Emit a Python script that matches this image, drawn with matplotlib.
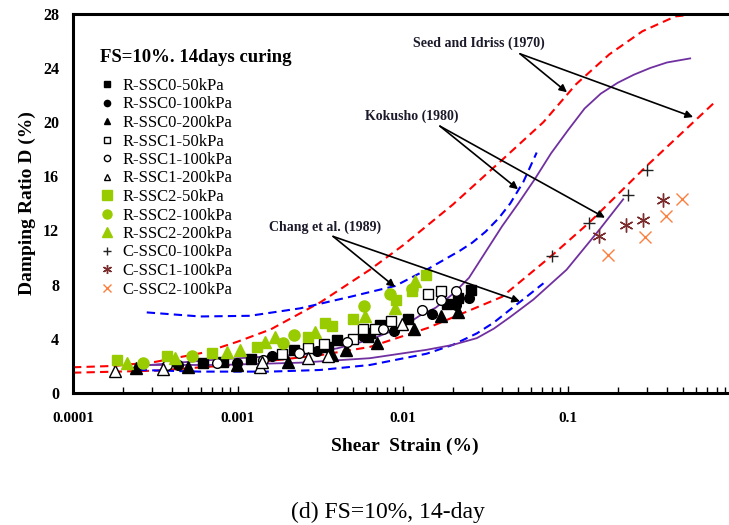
import matplotlib
matplotlib.use('Agg')
import matplotlib.pyplot as plt

plt.rcParams['font.family'] = ['Liberation Serif', 'DejaVu Serif']

# --- test results: shear strain (%), damping ratio (%) ---
r0_50_x = [6.1e-4, 8.1e-4, 1.2e-3, 2.2e-3, 3.5e-3, 4.0e-3, 6.1e-3, 6.3e-3, 7.3e-3, 1.07e-2, 1.85e-2, 2.15e-2, 2.6e-2]
r0_50_y = [2.2, 2.3, 2.5, 3.2, 3.4, 3.9, 4.1, 4.4, 5.0, 5.5, 6.6, 7.0, 7.6]
r0_100_x = [4.3e-4, 9.9e-4, 1.6e-3, 3.0e-3, 5.7e-3, 8.8e-3, 1.5e-2, 2.1e-2, 2.5e-2]
r0_100_y = [2.1, 2.2, 2.7, 3.1, 4.2, 4.6, 5.8, 6.5, 7.0]
r0_200_x = [2.4e-4, 5.0e-4, 9.9e-4, 2.0e-3, 3.7e-3, 4.5e-3, 7.0e-3, 1.17e-2, 1.7e-2, 2.15e-2]
r0_200_y = [1.85, 1.95, 2.1, 2.3, 2.8, 3.2, 3.7, 4.7, 5.7, 6.0]
r1_50_x = [1.85e-3, 2.65e-3, 3.3e-3, 5.0e-3, 5.7e-3, 6.8e-3, 8.5e-3, 1.42e-2, 1.7e-2]
r1_50_y = [2.9, 3.3, 3.6, 4.0, 4.7, 4.7, 5.3, 7.3, 7.5]
r1_100_x = [3.7e-4, 7.5e-4, 1.42e-3, 2.34e-3, 4.6e-3, 7.6e-3, 1.3e-2, 1.7e-2, 2.1e-2]
r1_100_y = [2.05, 2.2, 2.45, 2.95, 3.8, 4.7, 6.15, 6.9, 7.5]
r1_200_x = [1.8e-4, 3.5e-4, 1.36e-3, 1.4e-3, 2.65e-3, 3.5e-3, 9.9e-3]
r1_200_y = [1.6, 1.75, 1.95, 2.3, 2.6, 2.7, 5.1]
r2_50_x = [1.85e-4, 3.7e-4, 7.0e-4, 1.3e-3, 2.65e-3, 3.37e-3, 3.7e-3, 5.0e-3, 9.1e-3, 1.14e-2, 1.38e-2]
r2_50_y = [2.45, 2.7, 2.95, 3.4, 4.15, 5.15, 4.95, 5.5, 6.9, 7.5, 8.7]
r2_100_x = [2.65e-4, 5.3e-4, 1.87e-3, 2.2e-3, 5.8e-3, 8.3e-3, 1.14e-2]
r2_100_y = [2.2, 2.7, 3.7, 4.3, 6.45, 7.3, 7.7]
r2_200_x = [2.12e-4, 4.15e-4, 8.6e-4, 1.03e-3, 1.46e-3, 1.67e-3, 2.93e-3, 5.9e-3, 8.9e-3, 1.18e-2]
r2_200_y = [2.2, 2.55, 3.0, 3.2, 3.75, 4.17, 4.54, 5.65, 6.27, 8.3]
c0_x = [0.0796, 0.1346, 0.230, 0.300]
c0_y = [10.15, 12.57, 14.59, 16.47]
c1_x = [0.155, 0.224, 0.284, 0.378]
c1_y = [11.58, 12.37, 12.77, 14.22]
c2_x = [0.175, 0.293, 0.393, 0.489]
c2_y = [10.22, 11.5, 13.1, 14.35]

# --- reference curves ---
seed_up_x = [1.0e-4, 1.78e-4, 3.16e-4, 6.3e-4, 1.0e-3, 1.58e-3, 3.16e-3, 6.3e-3, 1.0e-2, 2.0e-2,
             3.98e-2, 7.1e-2, 0.112, 0.178, 0.282, 0.447, 0.63, 0.78]
seed_up_y = [1.9, 2.0, 2.3, 3.0, 3.8, 4.7, 6.7, 9.1, 10.9, 13.9, 17.2, 20.0, 22.8, 25.0, 26.7, 27.8, 28.0, 28.0]
seed_lo_x = [1.0e-4, 3.16e-4, 1.0e-3, 3.16e-3, 6.3e-3, 1.41e-2, 3.98e-2, 7.9e-2, 0.135, 0.302, 0.78]
seed_lo_y = [1.5, 1.65, 2.1, 2.8, 3.4, 4.8, 7.1, 10.1, 12.6, 16.8, 21.5]
chang_up_x = [2.8e-4, 5.9e-4, 1.18e-3, 2.38e-3, 4.78e-3, 8.95e-3, 1.39e-2, 2.21e-2, 2.63e-2, 3.16e-2,
              3.8e-2, 4.47e-2, 5.37e-2, 6.46e-2]
chang_up_y = [5.95, 5.65, 5.7, 6.25, 7.1, 7.9, 9.1, 10.5, 11.1, 11.9, 12.9, 14.0, 15.6, 17.75]
chang_lo_x = [2.5e-4, 5.9e-4, 1.56e-3, 3.14e-3, 6.3e-3, 1.39e-2, 2.0e-2, 2.8e-2, 3.55e-2, 4.45e-2, 5.6e-2, 7.1e-2]
chang_lo_y = [1.7, 1.58, 1.58, 1.7, 2.07, 2.9, 3.55, 4.4, 5.2, 6.15, 7.1, 8.1]
koku_up_x = [2.93e-4, 7.8e-4, 2.5e-3, 4.0e-3, 6.3e-3, 1.0e-2, 1.26e-2, 1.58e-2, 2.0e-2, 2.51e-2, 3.16e-2,
             3.98e-2, 5.0e-2, 6.3e-2, 7.9e-2, 0.1, 0.126, 0.158, 0.2, 0.251, 0.316, 0.398, 0.55]
koku_up_y = [2.07, 2.49, 2.85, 3.3, 3.93, 4.9, 5.7, 6.3, 7.3, 8.5, 10.4, 12.3, 14.0, 15.8, 17.7, 19.4,
             21.0, 22.1, 22.9, 23.5, 24.0, 24.4, 24.7]
koku_lo_x = [2.93e-4, 7.8e-4, 2.38e-3, 6.3e-3, 1.39e-2, 2.0e-2, 2.8e-2, 3.55e-2, 4.45e-2, 6.17e-2, 9.8e-2, 0.156, 0.216]
koku_lo_y = [2.07, 2.07, 2.24, 2.57, 3.19, 3.55, 4.05, 4.75, 5.6, 6.9, 9.1, 12.1, 14.3]

labels = ['R-SSC0-50kPa', 'R-SSC0-100kPa', 'R-SSC0-200kPa', 'R-SSC1-50kPa', 'R-SSC1-100kPa',
          'R-SSC1-200kPa', 'R-SSC2-50kPa', 'R-SSC2-100kPa', 'R-SSC2-200kPa', 'C-SSC0-100kPa',
          'C-SSC1-100kPa', 'C-SSC2-100kPa']
xs = [r0_50_x, r0_100_x, r0_200_x, r1_50_x, r1_100_x, r1_200_x, r2_50_x, r2_100_x, r2_200_x, c0_x, c1_x, c2_x]
ys = [r0_50_y, r0_100_y, r0_200_y, r1_50_y, r1_100_y, r1_200_y, r2_50_y, r2_100_y, r2_200_y, c0_y, c1_y, c2_y]

green = '#99cc00'
# marker, face, edge, size, legend size
styles = [('s', 'black', 'black', 6.5, 4.5), ('o', 'black', 'black', 7, 4.5), ('^', 'black', 'black', 8, 5),
          ('s', 'white', 'black', 6.5, 4.5), ('o', 'white', 'black', 7, 4.5), ('^', 'white', 'black', 8, 5),
          ('s', green, green, 7.5, 6.5), ('o', green, green, 8, 6.5), ('^', green, green, 9, 7),
          ('+', 'none', '#222222', 9, 6), ((6, 2, 0), 'none', '#7b2c2c', 10, 6.5), ('x', 'none', '#fa8040', 8, 6)]

fig = plt.figure(figsize=(7.29, 5.25), dpi=100)
ax = fig.add_axes([0.1001, 0.2514, 0.9054, 0.7225])

red_kw = dict(color='#ff0000', lw=1.5, dashes=(4, 2.5))
blue_kw = dict(color='#0000ff', lw=1.5, dashes=(4, 2.5))
ax.plot(seed_up_x, seed_up_y, **red_kw)
ax.plot(seed_lo_x, seed_lo_y, **red_kw)
ax.plot(chang_up_x, chang_up_y, **blue_kw)
ax.plot(chang_lo_x, chang_lo_y, **blue_kw)
ax.plot(koku_up_x, koku_up_y, color='#7030a0', lw=1.3)
ax.plot(koku_lo_x, koku_lo_y, color='#7030a0', lw=1.3)

for x, y, lab, (m, fc, ec, ms, _) in zip(xs, ys, labels, styles):
    ax.plot(x, y, ls='none', marker=m, ms=ms, mfc=fc, mec=ec, mew=1.0, label=lab, zorder=3)

ax.set_xscale('log')
ax.set_xlim(1e-4, 1)
ax.set_ylim(0, 28)
ax.set_xticks([1e-4, 1e-3, 1e-2, 1e-1, 1])
ax.set_xticklabels(['0.0001', '0.001', '0.01', '0.1', '1'])
ax.xaxis.set_minor_formatter(matplotlib.ticker.NullFormatter())
ax.set_yticks(range(0, 29, 4))
ax.tick_params(axis='x', which='both', direction='in', labelsize=11, pad=14)
ax.tick_params(axis='x', which='major', length=5, width=1)
ax.tick_params(axis='x', which='minor', length=4, width=1)
ax.tick_params(axis='y', length=0, labelsize=11.5, pad=10)
for lbl in ax.get_xticklabels() + ax.get_yticklabels():
    lbl.set_fontweight('bold')
for s in ['left', 'top', 'bottom']:
    ax.spines[s].set_linewidth(2.2)
ax.spines['right'].set_visible(False)

ax.set_xlabel('Shear  Strain (%)', fontsize=14, fontweight='bold')
ax.xaxis.set_label_coords(0.503, -0.119)
ax.set_ylabel('Damping Ratio D (%)', fontsize=14, fontweight='bold')
ax.yaxis.set_label_coords(-0.056, 0.5)

# annotations
txt_kw = dict(fontsize=10, fontweight='bold', ha='center', va='center', color='#1a1a2a')
arr = dict(arrowstyle='-|>', color='black', lw=1.2, mutation_scale=11, shrinkA=0, shrinkB=0)
ax.text(0.0289, 25.85, 'Seed and Idriss (1970)', **txt_kw)
ax.annotate('', xy=(0.0986, 22.2), xytext=(0.0512, 25.04), arrowprops=arr)
ax.annotate('', xy=(0.573, 20.37), xytext=(0.0512, 25.04), arrowprops=arr)
ax.text(0.01135, 20.44, 'Kokusho (1980)', **txt_kw)
ax.annotate('', xy=(0.0498, 15.04), xytext=(0.01675, 19.7), arrowprops=arr)
ax.annotate('', xy=(0.1675, 12.94), xytext=(0.01675, 19.7), arrowprops=arr)
ax.text(0.00337, 12.22, 'Chang et al. (1989)', **txt_kw)
ax.annotate('', xy=(0.00895, 7.83), xytext=(0.00377, 11.56), arrowprops=arr)
ax.annotate('', xy=(0.0512, 6.76), xytext=(0.00377, 11.56), arrowprops=arr)

fig.text(100 / 729, 1 - 57 / 525, 'FS=10%. 14days curing', ha='left', va='center',
         fontsize=13.5, fontweight='bold')
leg = ax.legend(loc='upper left', bbox_to_anchor=(100 / 729, 1 - 78 / 525), bbox_transform=fig.transFigure,
                frameon=False, fontsize=12, borderpad=0, handlelength=0.8, handletextpad=0.55,
                labelspacing=0.15, borderaxespad=0)
for h, st in zip(leg.legend_handles, styles):
    h.set_markersize(st[4])

fig.text(388 / 729, 1 - 512 / 525, '(d) FS=10%, 14-day', ha='center', va='center', fontsize=17)

fig.savefig('out.png', dpi=100)
